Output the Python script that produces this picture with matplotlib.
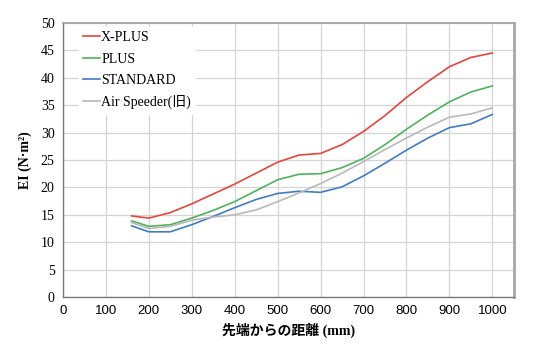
import matplotlib
matplotlib.use("Agg")
import matplotlib.pyplot as plt

# ==================================================
# Data
# ==================================================

distance = [160, 200, 250, 300, 350, 400, 450, 500, 550,
            600, 650, 700, 750, 800, 850, 900, 950, 1000]

x_plus = [14.8, 14.4, 15.4, 17.0, 18.8, 20.6, 22.6, 24.6, 25.9,
          26.2, 27.8, 30.2, 33.1, 36.4, 39.3, 42.0, 43.7, 44.5]

plus = [13.9, 12.9, 13.2, 14.4, 15.8, 17.4, 19.4, 21.4, 22.4,
        22.5, 23.6, 25.3, 27.8, 30.6, 33.2, 35.6, 37.4, 38.5]

standard = [13.0, 11.9, 11.9, 13.2, 14.7, 16.3, 17.8, 18.9, 19.3,
            19.1, 20.1, 22.1, 24.4, 26.8, 29.0, 30.9, 31.6, 33.3]

air_speeder = [13.6, 12.5, 12.9, 14.0, 14.6, 15.0, 15.9, 17.4, 19.0,
               20.7, 22.6, 24.7, 26.9, 29.0, 31.0, 32.8, 33.4, 34.5]

series_labels = ["X-PLUS", "PLUS", "STANDARD", "Air Speeder(旧)"]
series_colors = ["#e8453c", "#4fb35a", "#3f7cc8", "#b9b9b9"]

x_ticks = [0, 100, 200, 300, 400, 500, 600, 700, 800, 900, 1000]
y_ticks = [0, 5, 10, 15, 20, 25, 30, 35, 40, 45, 50]

serif_jp = ["Liberation Serif", "Noto Sans CJK JP"]

# ==================================================
# Chart
# ==================================================

fig = plt.figure(figsize=(5.42, 3.52), dpi=100)
ax = fig.add_axes([0.116, 0.156, 0.832, 0.779])

for values, label, color in zip(
    [x_plus, plus, standard, air_speeder],
    series_labels,
    series_colors
):
    ax.plot(distance, values, color=color, linewidth=1.2, label=label)

ax.set_xlim(0, 1050)
ax.set_ylim(0, 50)
ax.set_xticks(x_ticks)
ax.set_yticks(y_ticks)

ax.grid(True, color="#d4d4d4", linewidth=0.9)
ax.set_axisbelow(True)

for side in ["left", "bottom"]:
    ax.spines[side].set_color("#7a7a7a")
    ax.spines[side].set_linewidth(1.0)
ax.spines["top"].set_color("#a0a0a0")
ax.spines["top"].set_linewidth(1.2)
ax.spines["right"].set_color("#a8a8a8")
ax.spines["right"].set_linewidth(2.0)

ax.tick_params(length=0, pad=6)
for lab in ax.get_xticklabels():
    lab.set_fontfamily("Liberation Sans")
    lab.set_fontsize(9.5)
for lab in ax.get_yticklabels():
    lab.set_fontfamily("Liberation Serif")
    lab.set_fontsize(10)

ax.set_xlabel(
    "先端からの距離 (mm)",
    family=serif_jp,
    fontsize=10,
    fontweight="bold",
    labelpad=4
)
ax.set_ylabel(
    "EI (N·m²)",
    family=serif_jp,
    fontsize=10,
    fontweight="bold",
    labelpad=6
)

leg = ax.legend(
    loc="upper left",
    bbox_to_anchor=(0.02, 1.01),
    frameon=True,
    framealpha=1.0,
    edgecolor="white",
    facecolor="white",
    fancybox=False,
    handlelength=1.2,
    handletextpad=0.1,
    labelspacing=0.6,
    borderpad=0.3,
    prop={"family": serif_jp, "size": 10}
)

fig.savefig("out.png", dpi=100)
